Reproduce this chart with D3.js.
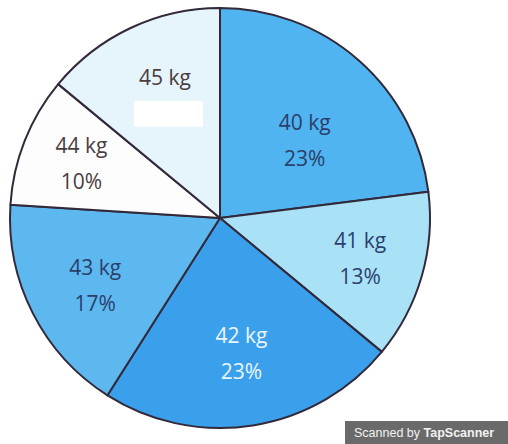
<!DOCTYPE html>
<html>
<head>
<meta charset="utf-8">
<script src="https://cdn.jsdelivr.net/npm/d3@7.9.0/dist/d3.min.js"></script>
<style>
  html, body { margin: 0; padding: 0; background: #fff; }
  svg { display: block; }
</style>
</head>
<body>
<svg id="chart"></svg>
<script>
// Data (the 45 kg percentage is covered in the original)
const weights = ['40 kg', '41 kg', '42 kg', '43 kg', '44 kg', '45 kg'];
const shares = [23, 13, 23, 17, 10, 14];
const shareLabels = ['23%', '13%', '23%', '17%', '10%', ''];

const width = 508;
const height = 444;
const cx = 220, cy = 218, radius = 210;

const fill = d3.scaleOrdinal()
  .domain(weights)
  .range(['#4fb4ef', '#a9e1f7', '#3aa0ec', '#5cb8ef', '#fdfdfd', '#e6f4fb']);

const textColor = d3.scaleOrdinal()
  .domain(weights)
  .range(['#2c3e6b', '#2c3e6b', '#eaf5ff', '#2c3e6b', '#4b3c40', '#4b3c40']);

// label placement: distance from the centre and a small turn (degrees) per slice
const labelR = d3.scaleOrdinal().domain(weights).range([115, 146, 137, 142, 149, 134]);
const labelTurn = d3.scaleOrdinal().domain(weights).range([6, 0, 0, -1.5, 0, 1]);

const svg = d3.select('#chart')
  .attr('width', width)
  .attr('height', height);

const pie = d3.pie().sort(null).value((d, i) => shares[i]);
const arcs = pie(weights);
const arc = d3.arc().innerRadius(0).outerRadius(radius);

const g = svg.append('g').attr('transform', `translate(${cx},${cy})`);

g.selectAll('path')
  .data(arcs)
  .join('path')
  .attr('d', arc)
  .attr('fill', (d) => fill(d.data))
  .attr('stroke', '#33293a')
  .attr('stroke-width', 2)
  .attr('stroke-linejoin', 'round');

function labelPos(d) {
  const a = (d.startAngle + d.endAngle) / 2 + labelTurn(d.data) * Math.PI / 180;
  const r = labelR(d.data);
  return [r * Math.sin(a), -r * Math.cos(a)];
}

const labels = g.selectAll('g.label')
  .data(arcs)
  .join('g')
  .attr('class', 'label')
  .attr('transform', (d) => `translate(${labelPos(d)})`)
  .style('font-family', '"Open Sans", "Noto Sans", sans-serif')
  .style('font-size', '21px')
  .attr('text-anchor', 'middle')
  .attr('fill', (d) => textColor(d.data));

labels.append('text')
  .attr('y', -10.5)
  .text((d) => d.data);

labels.append('text')
  .attr('y', 25.5)
  .text((d) => shareLabels[d.index]);

// white patch hiding the 45 kg percentage
const [hx, hy] = labelPos(arcs[5]);
g.append('rect')
  .attr('x', hx - 31)
  .attr('y', hy + 5)
  .attr('width', 69)
  .attr('height', 26)
  .attr('fill', '#ffffff');

// scanner watermark
const wm = svg.append('g').attr('transform', 'translate(345,421)');
wm.append('rect')
  .attr('width', 163)
  .attr('height', 23)
  .attr('fill', '#6a6a6a');
const wt = wm.append('text')
  .attr('x', 9)
  .attr('y', 16)
  .attr('fill', '#f2f2f2')
  .style('font-family', '"Liberation Sans", Arial, sans-serif')
  .style('font-size', '12.5px');
wt.append('tspan').text('Scanned by ');
wt.append('tspan').style('font-weight', 'bold').text('TapScanner');
</script>
</body>
</html>
